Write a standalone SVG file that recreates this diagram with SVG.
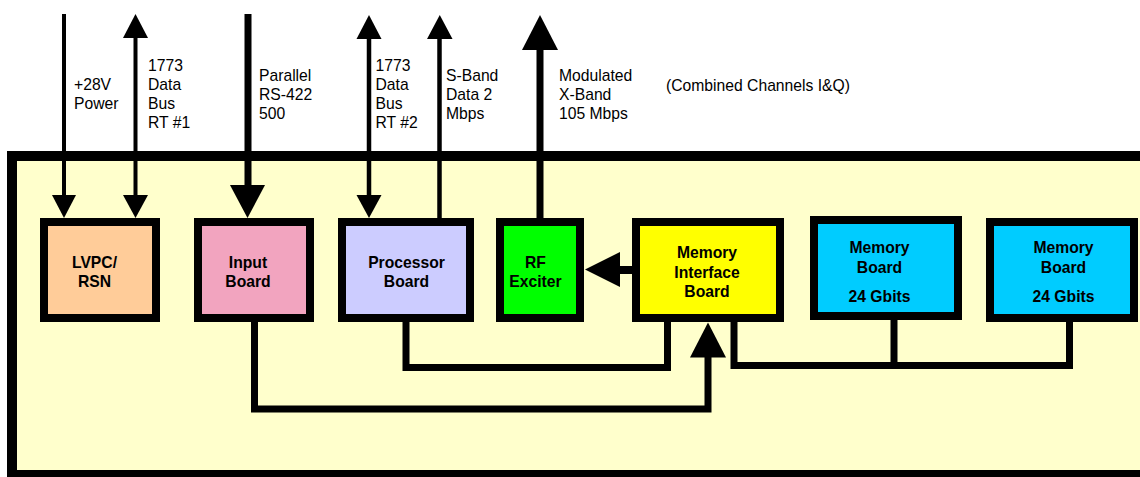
<svg xmlns="http://www.w3.org/2000/svg" width="1140" height="477" viewBox="0 0 1140 477">
<style>
.lbl{font-family:"Liberation Sans",Arial,sans-serif;font-size:15.7px;fill:#000}
.bl{font-family:"Liberation Sans",Arial,sans-serif;font-size:15.7px;font-weight:bold;fill:#000;text-anchor:middle}
.box{stroke:#000;stroke-width:8}
.ln{stroke:#000;fill:none}
.ah{fill:#000}
</style>
<rect id="frame" x="12" y="156" width="1200" height="319" fill="#FFFFCC" stroke="#000" stroke-width="10"/>
<g id="labels">
<text class="lbl" x="74" y="90">+28V</text>
<text class="lbl" x="74" y="109">Power</text>
<text class="lbl" x="148" y="71">1773</text>
<text class="lbl" x="148" y="90">Data</text>
<text class="lbl" x="148" y="109">Bus</text>
<text class="lbl" x="148" y="128">RT #1</text>
<text class="lbl" x="259" y="80.5">Parallel</text>
<text class="lbl" x="259" y="99.5">RS-422</text>
<text class="lbl" x="259" y="118.5">500</text>
<text class="lbl" x="375.5" y="71">1773</text>
<text class="lbl" x="375.5" y="90">Data</text>
<text class="lbl" x="375.5" y="109">Bus</text>
<text class="lbl" x="375.5" y="128">RT #2</text>
<text class="lbl" x="446" y="80.5">S-Band</text>
<text class="lbl" x="446" y="99.5">Data 2</text>
<text class="lbl" x="446" y="118.5">Mbps</text>
<text class="lbl" x="559" y="80.5">Modulated</text>
<text class="lbl" x="559" y="99.5">X-Band</text>
<text class="lbl" x="559" y="118.5">105 Mbps</text>
<text class="lbl" x="666" y="90.5">(Combined Channels I&amp;Q)</text>
</g>
<g id="lvpc">
<rect class="box" x="44" y="222" width="112" height="96" fill="#FFCC99"/>
<text class="bl" x="94.5" y="268">LVPC/</text>
<text class="bl" x="94.5" y="287">RSN</text>
</g>
<g id="input">
<rect class="box" x="198" y="222" width="112" height="96" fill="#F2A4BF"/>
<text class="bl" x="248" y="268">Input</text>
<text class="bl" x="248" y="287">Board</text>
</g>
<g id="processor">
<rect class="box" x="342" y="222" width="128" height="96" fill="#CCCCFF"/>
<text class="bl" x="406.5" y="268">Processor</text>
<text class="bl" x="406.5" y="287">Board</text>
</g>
<g id="rf">
<rect class="box" x="500" y="222" width="80" height="96" fill="#00FF00"/>
<text class="bl" x="535.5" y="268">RF</text>
<text class="bl" x="535.5" y="287">Exciter</text>
</g>
<g id="mib">
<rect class="box" x="636" y="222" width="144" height="96" fill="#FFFF00"/>
<text class="bl" x="707" y="258">Memory</text>
<text class="bl" x="707" y="277.5">Interface</text>
<text class="bl" x="707" y="297">Board</text>
</g>
<g id="mb1">
<rect class="box" x="814" y="220" width="144" height="96" fill="#00CCFF"/>
<text class="bl" x="879.5" y="253">Memory</text>
<text class="bl" x="879.5" y="272.5">Board</text>
<text class="bl" x="879.5" y="301.5">24 Gbits</text>
</g>
<g id="mb2">
<rect class="box" x="990" y="222" width="144" height="96" fill="#00CCFF"/>
<text class="bl" x="1063.5" y="253">Memory</text>
<text class="bl" x="1063.5" y="272.5">Board</text>
<text class="bl" x="1063.5" y="301.5">24 Gbits</text>
</g>
<g id="connectors">
<line class="ln" x1="64" y1="14" x2="64" y2="196" stroke-width="4"/>
<polygon class="ah" points="52,195 76,195 64,218"/>
<line class="ln" x1="135.5" y1="36" x2="135.5" y2="196" stroke-width="4"/>
<polygon class="ah" points="123,38 148,38 135.5,14"/>
<polygon class="ah" points="123,195 148,195 135.5,218"/>
<line class="ln" x1="248" y1="14" x2="248" y2="187" stroke-width="7"/>
<polygon class="ah" points="230,185 265,185 247.5,218"/>
<line class="ln" x1="369" y1="37" x2="369" y2="196" stroke-width="4.5"/>
<polygon class="ah" points="356.5,39 381.5,39 369,15"/>
<polygon class="ah" points="356.5,195 381.5,195 369,218"/>
<line class="ln" x1="439.5" y1="37" x2="439.5" y2="219" stroke-width="4.5"/>
<polygon class="ah" points="427,39 452.5,39 439.75,15"/>
<line class="ln" x1="540" y1="48" x2="540" y2="219" stroke-width="7"/>
<polygon class="ah" points="522,50 558,50 540,15"/>
<line class="ln" x1="618" y1="270" x2="633" y2="270" stroke-width="8"/>
<polygon class="ah" points="585,269.5 620,252 620,287"/>
<path class="ln" stroke-width="7" d="M254.5,321 V409 H708 V355"/>
<polygon class="ah" points="690,357.5 726,357.5 708,322.5"/>
<path class="ln" stroke-width="7" d="M406,321 V367.5 H667.5 V321"/>
<path class="ln" stroke-width="7" d="M734,321 V365.5 H1069.5 V321"/>
<path class="ln" stroke-width="7" d="M894,319 V365.5"/>
</g>
</svg>
